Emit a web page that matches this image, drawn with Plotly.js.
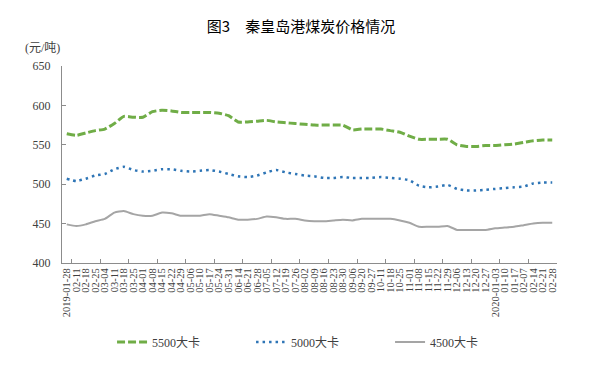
<!DOCTYPE html>
<html><head><meta charset="utf-8">
<script src="https://cdn.plot.ly/plotly-3.0.1.min.js"></script>
<style>html,body{margin:0;padding:0;background:#fff}</style>
</head><body><div id="chart" style="width:596px;height:373px"></div>
<script>
const categories = ['2019-01-28','02-11','02-18','02-25','03-04','03-11','03-18','03-25','04-01','04-08','04-15','04-22','04-29','05-06','05-10','05-17','05-24','05-31','06-14','06-21','06-28','07-05','07-12','07-19','07-26','08-02','08-09','08-16','08-23','08-30','09-06','09-20','09-27','10-11','10-18','10-25','11-01','11-08','11-15','11-22','11-29','12-06','12-13','12-20','12-27','2020-01-03','01-10','01-17','02-07','02-14','02-21','02-28'];
const coal5500 = [564,562,565,568,570,577,586,585,585,592,594,593,591,591,591,591,590,587,579,579,580,581,579,578,577,576,575,575,575,575,569,570,570,570,568,566,561,557,557,557,557,550,548,548,549,549,550,551,553,555,556,556];
const coal5000 = [507,504,507,511,513,519,522,518,516,517,519,519,517,516,517,518,516,513,510,509,511,515,518,515,513,511,510,508,508,509,508,508,508,509,508,507,505,498,496,497,499,494,492,492,493,494,495,496,497,501,502,502];
const coal4500 = [449,447,449,453,456,464,466,462,460,460,464,463,460,460,460,462,460,458,455,455,456,459,458,456,456,454,453,453,454,455,454,456,456,456,456,454,451,446,446,446,447,442,442,442,442,444,445,446,448,450,451,451];
const seriesNames = ['5500大卡','5000大卡','4500大卡'];
const yTicks = [400,450,500,550,600,650];
const titleText = '图3　秦皇岛港煤炭价格情况';
const unitText = '(元/吨)';

const tickBoundaries = [];
for (let k = 0.5; k <= categories.length - 0.5; k += 3) tickBoundaries.push(k);

const serif = 'Liberation Serif, Noto Sans CJK SC, serif';
const axisColor = '#8c8c8c';

const traces = [
  {x: categories, y: coal5500, name: seriesNames[0], type: 'scatter', mode: 'lines',
   line: {color: '#70AD47', width: 3, dash: '8px,3px', shape: 'spline', smoothing: 0.5}},
  {x: categories, y: coal5000, name: seriesNames[1], type: 'scatter', mode: 'lines',
   line: {color: '#2E75B6', width: 2.5, dash: '2.5px,4px', shape: 'spline', smoothing: 0.5}},
  {x: categories, y: coal4500, name: seriesNames[2], type: 'scatter', mode: 'lines',
   line: {color: '#A5A5A5', width: 2, shape: 'spline', smoothing: 0.5}},
  {x: [], y: [], xaxis: 'x2', yaxis: 'y', showlegend: false, hoverinfo: 'skip', type: 'scatter', mode: 'lines'}
];

const layout = {
  width: 596, height: 373, autosize: false,
  paper_bgcolor: '#ffffff', plot_bgcolor: '#ffffff',
  margin: {l: 62, r: 39, t: 66, b: 110},
  title: {text: titleText, font: {family: 'Noto Sans CJK SC, sans-serif', size: 15, color: '#000'},
          x: 0.505, xref: 'container', xanchor: 'center', y: 1 - 27/373, yref: 'container', yanchor: 'middle'},
  xaxis: {type: 'category', range: [-0.5, categories.length - 0.5], tickangle: -90, ticks: '',
          tickmode: 'array', tickvals: categories, ticktext: categories,
          showline: true, linecolor: axisColor, linewidth: 1, showgrid: false, zeroline: false,
          tickfont: {family: serif, size: 10.5, color: '#404040'}, fixedrange: true},
  xaxis2: {overlaying: 'x', anchor: 'y', type: 'linear', range: [-0.5, categories.length - 0.5],
           tickmode: 'array', tickvals: tickBoundaries, ticks: 'inside', ticklen: 4, tickcolor: axisColor,
           showticklabels: false, showgrid: false, showline: false, zeroline: false, side: 'bottom', fixedrange: true},
  yaxis: {range: [400, 650], tickmode: 'array', tickvals: yTicks, ticks: 'inside', ticklen: 4, tickcolor: axisColor,
          showline: true, linecolor: axisColor, linewidth: 1, showgrid: false, zeroline: false,
          tickfont: {family: serif, size: 12, color: '#404040'}, ticklabelstandoff: 8, fixedrange: true},
  legend: {orientation: 'h', xref: 'container', yref: 'container', x: 0.188, xanchor: 'left',
           y: 1 - 342/373, yanchor: 'middle', entrywidth: 94, entrywidthmode: 'pixels',
           font: {family: serif, size: 12, color: '#404040'}},
  annotations: [{text: unitText, xref: 'paper', yref: 'paper', x: 0, y: 1, xshift: -20, yshift: 18,
                 showarrow: false, xanchor: 'center', yanchor: 'middle',
                 font: {family: serif, size: 12, color: '#404040'}}],
  showlegend: true
};

Plotly.newPlot('chart', traces, layout, {displayModeBar: false, staticPlot: true});
</script>
</body></html>
